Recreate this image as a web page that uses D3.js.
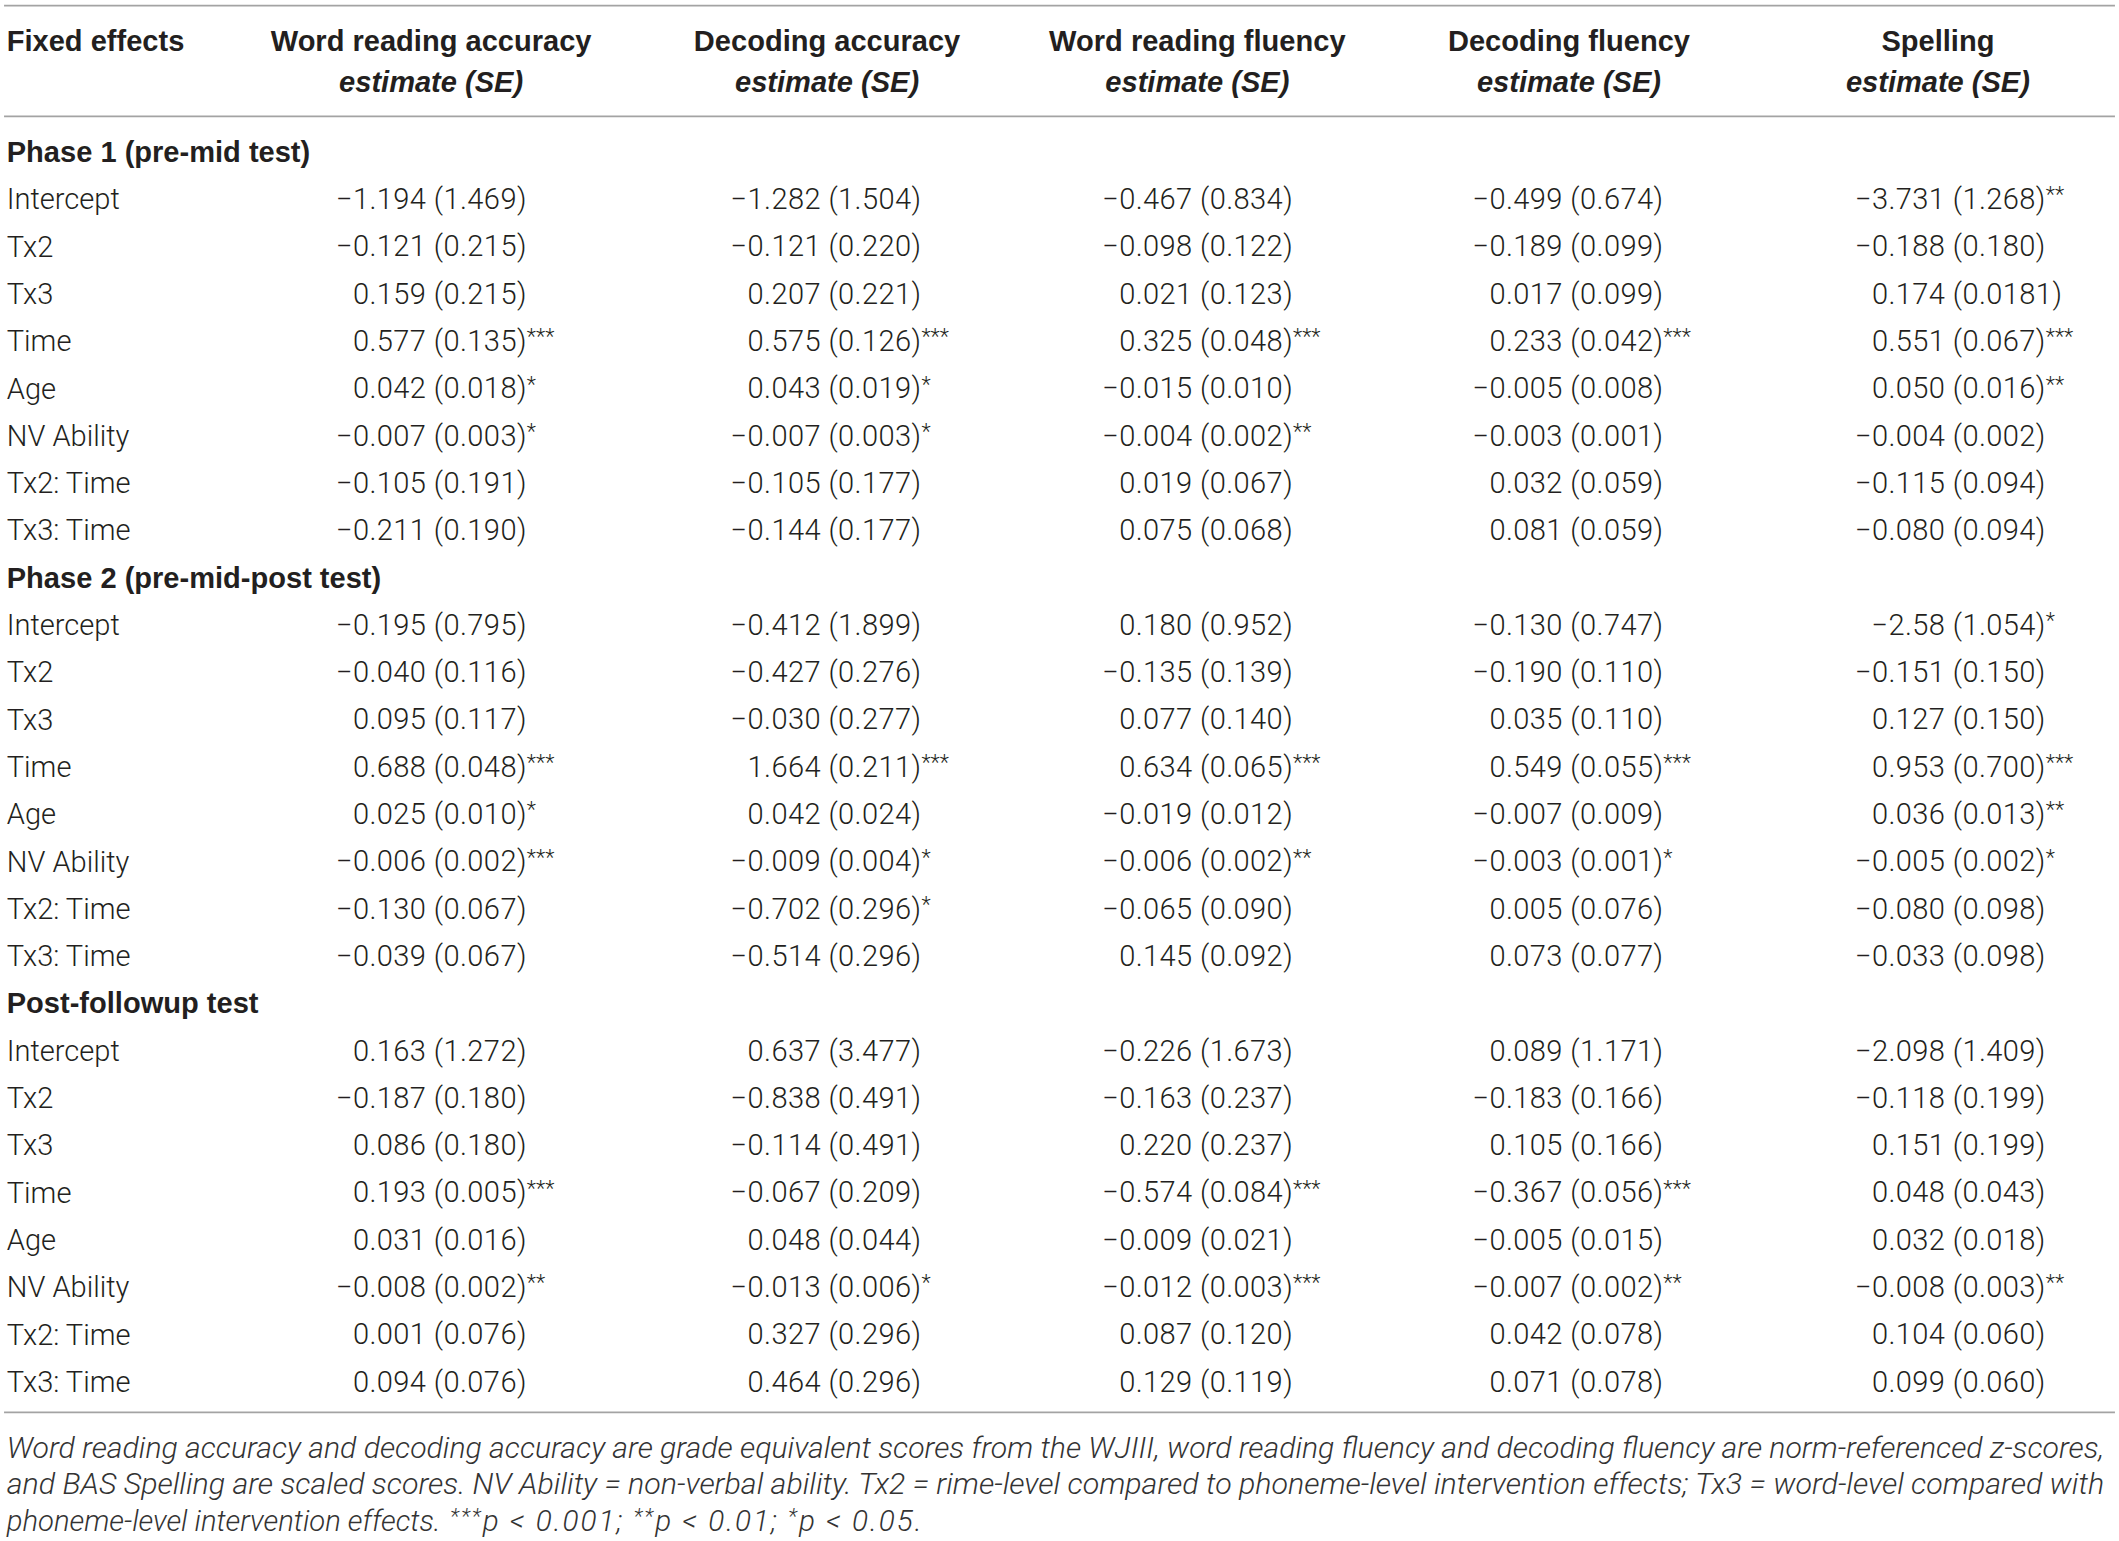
<!DOCTYPE html>
<html>
<head>
<meta charset="utf-8">
<script src="https://cdn.jsdelivr.net/npm/d3@7"></script>
<style>
  body { margin: 0; background: #fff; }
  svg { display: block; }
</style>
</head>
<body>
<div id="chart"></div>
<script>
// Column headers and row labels
const columns = ["Word reading accuracy", "Decoding accuracy", "Word reading fluency", "Decoding fluency", "Spelling"];
const sections = ["Phase 1 (pre-mid test)", "Phase 2 (pre-mid-post test)", "Post-followup test"];
const effects = ["Intercept", "Tx2", "Tx3", "Time", "Age", "NV Ability", "Tx2: Time", "Tx3: Time"];

// Cells: "estimate (SE)" plus significance stars, one row per effect
const phase1 = [
  ["−1.194 (1.469)", "−1.282 (1.504)", "−0.467 (0.834)", "−0.499 (0.674)", "−3.731 (1.268)**"],
  ["−0.121 (0.215)", "−0.121 (0.220)", "−0.098 (0.122)", "−0.189 (0.099)", "−0.188 (0.180)"],
  ["0.159 (0.215)", "0.207 (0.221)", "0.021 (0.123)", "0.017 (0.099)", "0.174 (0.0181)"],
  ["0.577 (0.135)***", "0.575 (0.126)***", "0.325 (0.048)***", "0.233 (0.042)***", "0.551 (0.067)***"],
  ["0.042 (0.018)*", "0.043 (0.019)*", "−0.015 (0.010)", "−0.005 (0.008)", "0.050 (0.016)**"],
  ["−0.007 (0.003)*", "−0.007 (0.003)*", "−0.004 (0.002)**", "−0.003 (0.001)", "−0.004 (0.002)"],
  ["−0.105 (0.191)", "−0.105 (0.177)", "0.019 (0.067)", "0.032 (0.059)", "−0.115 (0.094)"],
  ["−0.211 (0.190)", "−0.144 (0.177)", "0.075 (0.068)", "0.081 (0.059)", "−0.080 (0.094)"]
];
const phase2 = [
  ["−0.195 (0.795)", "−0.412 (1.899)", "0.180 (0.952)", "−0.130 (0.747)", "−2.58 (1.054)*"],
  ["−0.040 (0.116)", "−0.427 (0.276)", "−0.135 (0.139)", "−0.190 (0.110)", "−0.151 (0.150)"],
  ["0.095 (0.117)", "−0.030 (0.277)", "0.077 (0.140)", "0.035 (0.110)", "0.127 (0.150)"],
  ["0.688 (0.048)***", "1.664 (0.211)***", "0.634 (0.065)***", "0.549 (0.055)***", "0.953 (0.700)***"],
  ["0.025 (0.010)*", "0.042 (0.024)", "−0.019 (0.012)", "−0.007 (0.009)", "0.036 (0.013)**"],
  ["−0.006 (0.002)***", "−0.009 (0.004)*", "−0.006 (0.002)**", "−0.003 (0.001)*", "−0.005 (0.002)*"],
  ["−0.130 (0.067)", "−0.702 (0.296)*", "−0.065 (0.090)", "0.005 (0.076)", "−0.080 (0.098)"],
  ["−0.039 (0.067)", "−0.514 (0.296)", "0.145 (0.092)", "0.073 (0.077)", "−0.033 (0.098)"]
];
const postFollowup = [
  ["0.163 (1.272)", "0.637 (3.477)", "−0.226 (1.673)", "0.089 (1.171)", "−2.098 (1.409)"],
  ["−0.187 (0.180)", "−0.838 (0.491)", "−0.163 (0.237)", "−0.183 (0.166)", "−0.118 (0.199)"],
  ["0.086 (0.180)", "−0.114 (0.491)", "0.220 (0.237)", "0.105 (0.166)", "0.151 (0.199)"],
  ["0.193 (0.005)***", "−0.067 (0.209)", "−0.574 (0.084)***", "−0.367 (0.056)***", "0.048 (0.043)"],
  ["0.031 (0.016)", "0.048 (0.044)", "−0.009 (0.021)", "−0.005 (0.015)", "0.032 (0.018)"],
  ["−0.008 (0.002)**", "−0.013 (0.006)*", "−0.012 (0.003)***", "−0.007 (0.002)**", "−0.008 (0.003)**"],
  ["0.001 (0.076)", "0.327 (0.296)", "0.087 (0.120)", "0.042 (0.078)", "0.104 (0.060)"],
  ["0.094 (0.076)", "0.464 (0.296)", "0.129 (0.119)", "0.071 (0.078)", "0.099 (0.060)"]
];
const sectionCells = [phase1, phase2, postFollowup];

const footnote = [
  "Word reading accuracy and decoding accuracy are grade equivalent scores from the WJIII, word reading fluency and decoding fluency are norm-referenced z-scores,",
  "and BAS Spelling are scaled scores. NV Ability = non-verbal ability. Tx2 = rime-level compared to phoneme-level intervention effects; Tx3 = word-level compared with"
];
const footnoteEnd = "phoneme-level intervention effects.";
const pLevels = [["***", "p < 0.001; "], ["**", "p < 0.01; "], ["*", "p < 0.05."]];

// Drawing space (scaled up to the window by the viewBox)
const W = 1568, H = 1140;
const ink = "#231f20";
const ruleColor = "#a3a3a3";
const boldFont = "'Liberation Sans', Arial, sans-serif";
const lightFont = "Roboto, 'Liberation Sans', sans-serif";
const bodySize = 21.5;

const svg = d3.select("#chart")
  .append("svg")
  .attr("width", 2119)
  .attr("height", 1541)
  .attr("viewBox", `0 0 ${W} ${H}`);

svg.append("rect").attr("width", W).attr("height", H).attr("fill", "#fff");

// Build flat row list: section header followed by its effect rows
const rows = [];
sections.forEach((s, si) => {
  rows.push({type: "section", label: s});
  effects.forEach((e, ei) => {
    rows.push({type: "effect", label: e, cells: sectionCells[si][ei]});
  });
});

// Scales
const y = d3.scaleLinear().domain([0, rows.length - 1]).range([112, 1022]);
const headerX = d3.scaleOrdinal().domain(columns).range([319, 612, 886, 1161, 1434]);
const parenX = d3.scaleOrdinal().domain(columns).range([321, 613, 888, 1162, 1445]);

// Rules
const rules = [4, 86, 1045];
svg.selectAll(".rule")
  .data(rules)
  .enter().append("line")
  .attr("class", "rule")
  .attr("x1", 3).attr("x2", 1565)
  .attr("y1", d => d).attr("y2", d => d)
  .attr("stroke", ruleColor)
  .attr("stroke-width", 1.4);

// Header
svg.append("text")
  .attr("x", 5).attr("y", 30).attr("dy", "0.36em")
  .attr("font-family", boldFont).attr("font-weight", 700)
  .attr("font-size", 21.5).attr("fill", ink)
  .text("Fixed effects");

const head = svg.selectAll(".colhead")
  .data(columns)
  .enter().append("g")
  .attr("class", "colhead")
  .attr("transform", d => `translate(${headerX(d)},0)`);

head.append("text")
  .attr("y", 30).attr("dy", "0.36em")
  .attr("text-anchor", "middle")
  .attr("font-family", boldFont).attr("font-weight", 700)
  .attr("font-size", 21.5).attr("fill", ink)
  .text(d => d);

head.append("text")
  .attr("y", 60).attr("dy", "0.36em")
  .attr("text-anchor", "middle")
  .attr("font-family", boldFont).attr("font-weight", 700)
  .attr("font-style", "italic")
  .attr("font-size", 21.5).attr("fill", ink)
  .text("estimate (SE)");

// Body rows
const row = svg.selectAll(".row")
  .data(rows)
  .enter().append("g")
  .attr("class", "row")
  .attr("transform", (d, i) => `translate(0,${y(i)})`);

row.append("text")
  .attr("x", 5).attr("dy", "0.36em")
  .attr("font-family", d => d.type === "section" ? boldFont : lightFont)
  .attr("font-weight", d => d.type === "section" ? 700 : 300)
  .attr("font-size", d => d.type === "section" ? 21.5 : bodySize)
  .attr("fill", ink)
  .text(d => d.label);

const parseCell = s => {
  const m = s.match(/^(\S+) \((\S+)\)(\**)$/);
  return {est: m[1], se: m[2], stars: m[3]};
};

const cell = row.filter(d => d.type === "effect")
  .selectAll(".cell")
  .data(d => d.cells.map((c, i) => Object.assign({col: columns[i]}, parseCell(c))))
  .enter().append("g")
  .attr("class", "cell");

cell.append("text")
  .attr("x", d => parenX(d.col) - 5.5)
  .attr("y", 7.6)
  .attr("text-anchor", "end")
  .attr("font-family", lightFont).attr("font-weight", 300)
  .attr("font-size", bodySize).attr("letter-spacing", 0.3).attr("fill", ink)
  .text(d => d.est);

const seText = cell.append("text")
  .attr("x", d => parenX(d.col))
  .attr("y", 7.6)
  .attr("font-family", lightFont).attr("font-weight", 300)
  .attr("font-size", bodySize).attr("letter-spacing", 0.3).attr("fill", ink);

seText.append("tspan").text(d => `(${d.se})`);
seText.filter(d => d.stars).append("tspan")
  .attr("font-size", 16).attr("dy", -5).attr("letter-spacing", 0)
  .text(d => d.stars);

// Footnote
const noteY = [1071, 1098, 1125];
const noteSize = 22;
svg.selectAll(".note")
  .data(footnote)
  .enter().append("text")
  .attr("class", "note")
  .attr("x", 5).attr("y", (d, i) => noteY[i] + 7.5)
  .attr("font-family", lightFont).attr("font-weight", 300)
  .attr("font-style", "italic")
  .attr("font-size", noteSize).attr("fill", "#333")
  .attr("textLength", 1552)
  .attr("lengthAdjust", "spacingAndGlyphs")
  .text(d => d);

svg.append("text")
  .attr("x", 5).attr("y", noteY[2] + 7.5)
  .attr("font-family", lightFont).attr("font-weight", 300)
  .attr("font-style", "italic")
  .attr("font-size", noteSize).attr("fill", "#333")
  .attr("textLength", 321)
  .attr("lengthAdjust", "spacingAndGlyphs")
  .text(footnoteEnd);

const sig = svg.append("text")
  .attr("x", 333).attr("y", noteY[2] + 7.5)
  .attr("font-family", lightFont).attr("font-weight", 300)
  .attr("font-style", "italic")
  .attr("font-size", noteSize).attr("fill", "#333")
  .attr("textLength", 349)
  .attr("lengthAdjust", "spacing");

pLevels.forEach(([stars, txt], i) => {
  sig.append("tspan")
    .attr("font-size", 16)
    .attr("dy", i === 0 ? -5 : -5)
    .text(stars);
  sig.append("tspan")
    .attr("dy", 5)
    .text(txt);
});
</script>
</body>
</html>
